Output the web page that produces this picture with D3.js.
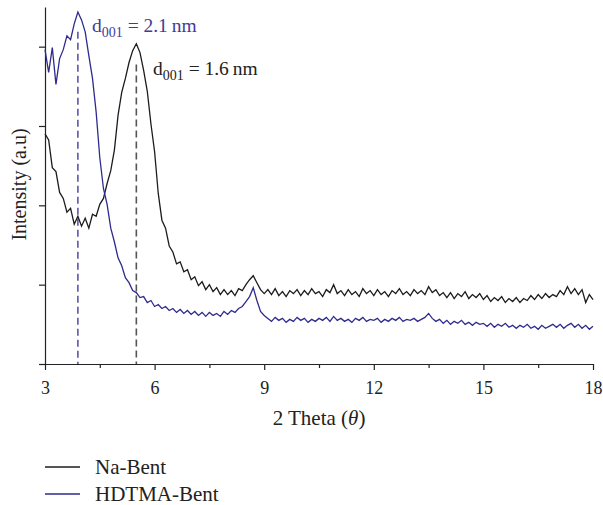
<!DOCTYPE html>
<html>
<head>
<meta charset="utf-8">
<script src="https://cdn.jsdelivr.net/npm/d3@7"></script>
<style>
  body { margin: 0; background: #fff; }
  text { font-family: "Liberation Serif", "DejaVu Serif", serif; }
</style>
</head>
<body>
<div id="xrd-div"></div>
<script>
// 2 theta positions (degrees), shared by both patterns
const twoTheta = [
  3.0,3.1,3.2,3.3,3.4,3.5,3.6,3.7,3.8,3.9,4.0,4.1,4.2,4.3,4.4,4.5,4.6,4.7,4.8,4.9,
  5.0,5.1,5.2,5.3,5.4,5.5,5.6,5.7,5.8,5.9,6.0,6.1,6.2,6.3,6.4,6.5,6.6,6.7,6.8,6.9,
  7.0,7.1,7.2,7.3,7.4,7.5,7.6,7.7,7.8,7.9,8.0,8.1,8.2,8.3,8.4,8.5,8.6,8.7,8.8,8.9,
  9.0,9.1,9.2,9.3,9.4,9.5,9.6,9.7,9.8,9.9,10.0,10.1,10.2,10.3,10.4,10.5,10.6,10.7,10.8,10.9,
  11.0,11.1,11.2,11.3,11.4,11.5,11.6,11.7,11.8,11.9,12.0,12.1,12.2,12.3,12.4,12.5,12.6,12.7,12.8,12.9,
  13.0,13.1,13.2,13.3,13.4,13.5,13.6,13.7,13.8,13.9,14.0,14.1,14.2,14.3,14.4,14.5,14.6,14.7,14.8,14.9,
  15.0,15.1,15.2,15.3,15.4,15.5,15.6,15.7,15.8,15.9,16.0,16.1,16.2,16.3,16.4,16.5,16.6,16.7,16.8,16.9,
  17.0,17.1,17.2,17.3,17.4,17.5,17.6,17.7,17.8,17.9,18.0
]

// intensity (a.u.)
const naBent = [
  232,226,198,194,173,167,153,157,141,149,139,147,137,151,149,161,167,182,195,216,
  251,274,288,304,316,323,314,296,275,242,214,172,145,137,119,113,101,103,93,95,
  85,88,79,83,75,80,73,77,70,75,70,74,69,76,74,80,85,89,82,75,
  71,75,70,76,69,73,68,74,71,75,69,74,70,76,71,73,68,75,72,80,
  71,74,69,75,70,73,68,76,71,74,69,75,70,73,68,74,71,76,70,73,
  69,75,71,74,70,78,72,75,69,72,67,72,66,71,68,73,66,70,67,71,
  65,69,63,67,64,68,62,66,63,67,62,66,64,69,65,70,66,71,67,70,
  68,74,70,78,71,76,70,75,62,70,65
]

const hdtmaBent = [
  317,294,319,282,308,317,331,327,343,355,347,335,311,288,254,208,177,161,137,123,
  107,99,87,82,74,72,67,68,62,64,58,60,56,58,54,56,52,55,51,54,
  50,53,49,52,48,52,49,51,48,53,50,54,52,56,58,63,68,77,64,53,
  49,46,43,47,44,46,42,45,43,47,44,46,42,45,43,46,44,47,43,48,
  44,46,43,45,42,46,44,47,43,45,44,46,42,45,43,46,44,47,43,45,
  44,46,43,45,47,51,46,43,45,41,44,40,43,41,44,40,42,39,42,40,
  41,38,41,37,40,38,41,37,39,36,39,37,40,36,38,35,39,36,38,40,
  37,40,36,39,41,37,40,36,39,35,38
]

// d001 peak positions and where the guide lines start
const peakTheta = [3.9, 5.5]
const peakTop = [335, 302]
const peakLabels = ["2.1", "1.6"]

const seriesNames = ["Na-Bent", "HDTMA-Bent"]
const seriesColors = ["#1c1c1c", "#2f2b8e"]

const xTicks = [3, 6, 9, 12, 15, 18]
const xMinorTicks = [4.5, 7.5, 10.5, 13.5, 16.5]
const yTicks = [0, 80, 160, 240, 320]

var margin = {top: 7, right: 10, bottom: 141, left: 45},
    width = 603 - margin.left - margin.right,
    height = 505 - margin.top - margin.bottom;

let svg = d3.select("#xrd-div")
  .append("svg")
    .attr("width", 603)
    .attr("height", 505)
  .append("g")
    .attr("transform", `translate(${margin.left}, ${margin.top})`);

const x = d3.scaleLinear().domain([3, 18]).range([0, 548])
const y = d3.scaleLinear().domain([0, 360]).range([height, 0])

// axes
let xAxis = svg.append("g")
    .attr("transform", `translate(0, ${height})`)
    .call(d3.axisBottom(x).tickValues(xTicks).tickSize(6).tickSizeOuter(0).tickPadding(11))
xAxis.selectAll("text").style("font-size", "18px").attr("fill", "#222")

svg.append("g")
    .attr("transform", `translate(0, ${height})`)
    .call(d3.axisBottom(x).tickValues(xMinorTicks).tickSize(4).tickSizeOuter(0).tickFormat(""))
    .select(".domain").remove()

let yAxis = svg.append("g")
    .call(d3.axisLeft(y).tickValues(yTicks).tickSize(6).tickSizeOuter(0).tickFormat(""))

svg.selectAll(".domain, .tick line").attr("stroke", "#222").attr("stroke-width", 1.2)

// dashed guides for the d001 reflections
svg.selectAll(".guide")
  .data(peakTheta)
  .join("line")
    .attr("class", "guide")
    .attr("x1", d => x(d))
    .attr("x2", d => x(d))
    .attr("y1", (d, i) => y(peakTop[i]))
    .attr("y2", y(0))
    .attr("stroke", (d, i) => i == 0 ? "#5a57a6" : "#555")
    .attr("stroke-width", 1.6)
    .attr("stroke-dasharray", "7,4")

// patterns
const line = d3.line()
    .x((d, i) => x(twoTheta[i]))
    .y(d => y(d))

svg.selectAll(".pattern")
  .data([naBent, hdtmaBent])
  .join("path")
    .attr("class", "pattern")
    .attr("d", d => line(d))
    .attr("fill", "none")
    .attr("stroke", (d, i) => seriesColors[i])
    .attr("stroke-width", 1.3)

// peak annotations
const notes = [
  {x: 47, y: 25, color: "#3f3b9a"},
  {x: 108, y: 68, color: "#222"}
]
notes.forEach((n, i) => {
  let t = svg.append("text")
      .attr("x", n.x)
      .attr("y", n.y)
      .attr("fill", n.color)
      .style("font-size", "19.5px")
  t.append("tspan").text("d")
  t.append("tspan").text("001").attr("dy", 5).style("font-size", "14px")
  t.append("tspan").text(` = ${peakLabels[i]}\u2009nm`).attr("dy", -5)
})

// axis titles
let xTitle = svg.append("text")
    .attr("x", 274)
    .attr("y", 425 - margin.top)
    .attr("text-anchor", "middle")
    .attr("fill", "#222")
    .style("font-size", "21px")
xTitle.append("tspan").text("2 Theta (")
xTitle.append("tspan").text("\u03b8").style("font-style", "italic")
xTitle.append("tspan").text(")")

svg.append("text")
    .attr("transform", `translate(-19, ${height / 2 - 1}) rotate(-90)`)
    .attr("text-anchor", "middle")
    .attr("fill", "#222")
    .style("font-size", "20px")
    .text("Intensity (a.u)")

// legend
let legend = svg.selectAll(".legend")
  .data(seriesNames)
  .join("g")
    .attr("class", "legend")
    .attr("transform", (d, i) => `translate(0, ${467 - margin.top + i * 27})`)

legend.append("line")
    .attr("x1", 0)
    .attr("x2", 35)
    .attr("stroke", (d, i) => seriesColors[i])
    .attr("stroke-width", 1.3)

legend.append("text")
    .attr("x", 50)
    .attr("y", 7)
    .attr("fill", "#222")
    .style("font-size", "21px")
    .text(d => d)
</script>
</body>
</html>
